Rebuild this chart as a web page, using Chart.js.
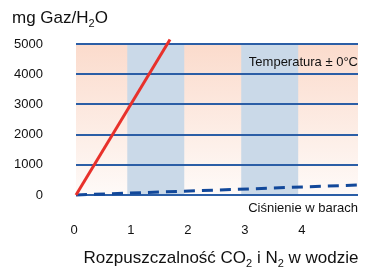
<!DOCTYPE html>
<html>
<head>
<meta charset="utf-8">
<script src="https://cdn.jsdelivr.net/npm/chart.js@4"></script>
<style>
  html, body { margin: 0; padding: 0; background: #fff; }
  #wrap { width: 373px; height: 270px; }
</style>
</head>
<body>
<div id="wrap"><canvas id="chart" width="373" height="270"></canvas></div>
<script>
// values
const co2Points = [[0, 0], [1.65, 5150]];      // bar, mg/l
const n2Points = [[0, 0], [4.95, 330]];
const yTicks = [0, 1000, 2000, 3000, 4000, 5000];
const xTicks = [0, 1, 2, 3, 4];
const blueBands = [[0.9, 1.9], [2.9, 3.9]];

const FONT = "'Liberation Sans', Arial, sans-serif";

// text with subscripts, parts = [[text, isSub], ...]
function drawRich(ctx, parts, x, y, size, align) {
    const subSize = Math.round(size * 0.62);
    let total = 0;
    parts.forEach(p => {
        ctx.font = (p[1] ? subSize : size) + "px " + FONT;
        total += ctx.measureText(p[0]).width;
    });
    let cx = align == 'right' ? x - total : (align == 'center' ? x - total / 2 : x);
    ctx.textAlign = 'left';
    ctx.textBaseline = 'alphabetic';
    parts.forEach(p => {
        ctx.font = (p[1] ? subSize : size) + "px " + FONT;
        ctx.fillText(p[0], cx, p[1] ? y + size * 0.22 : y);
        cx += ctx.measureText(p[0]).width;
    });
}

const backgroundPlugin = {
    id: 'bands',
    beforeDraw(chart) {
        const { ctx, chartArea: a, scales } = chart;
        ctx.save();
        let grad = ctx.createLinearGradient(0, a.top, 0, a.bottom);
        grad.addColorStop(0, '#fbdbcc');
        grad.addColorStop(1, '#fefaf8');
        ctx.fillStyle = grad;
        ctx.fillRect(a.left, a.top, a.right - a.left, a.bottom - a.top);
        ctx.fillStyle = '#cad9e8';
        blueBands.forEach(b => {
            const x1 = scales.x.getPixelForValue(b[0]);
            const x2 = scales.x.getPixelForValue(b[1]);
            ctx.fillRect(x1, a.top, x2 - x1, a.bottom - a.top);
        });
        ctx.restore();
    },
    afterDraw(chart) {
        const { ctx, chartArea: a } = chart;
        ctx.save();
        ctx.fillStyle = '#111';
        drawRich(ctx, [['mg Gaz/H', false], ['2', true], ['O', false]], 12, 23, 17, 'left');
        drawRich(ctx, [['Temperatura ± 0', false], ['°', false], ['C', false]], a.right, 66, 13, 'right');
        drawRich(ctx, [['Ciśnienie w barach', false]], a.right, 212, 13, 'right');
        drawRich(ctx, [['Rozpuszczalność CO', false], ['2', true], [' i N', false], ['2', true], [' w wodzie', false]],
            221, 263, 17, 'center');
        ctx.restore();
    }
};

const ctx = document.getElementById('chart').getContext('2d');
const config = {
    type: 'line',
    data: {
        datasets: [{
            label: 'CO2',
            data: co2Points.map(p => ({ x: p[0], y: p[1] })),
            borderColor: '#e8312b',
            borderWidth: 3,
            pointRadius: 0,
            clip: false
        }, {
            label: 'N2',
            data: n2Points.map(p => ({ x: p[0], y: p[1] })),
            borderColor: '#12489a',
            borderWidth: 3,
            borderDash: [11, 7],
            pointRadius: 0,
            clip: false
        }]
    },
    options: {
        responsive: false,
        animation: false,
        events: [],
        layout: { padding: { top: 44, right: 15, left: 0, bottom: 0 } },
        plugins: { legend: { display: false }, tooltip: { enabled: false } },
        scales: {
            x: {
                type: 'linear',
                min: 0,
                max: 4.95,
                afterFit: s => { s.height = 75; },
                afterBuildTicks: s => { s.ticks = xTicks.map(v => ({ value: v })); },
                grid: { display: false },
                border: { display: false },
                ticks: {
                    color: '#111',
                    font: { family: FONT, size: 13 },
                    padding: 20,
                    labelOffset: -2,
                    callback: v => String(v)
                }
            },
            y: {
                min: 0,
                max: 5000,
                afterFit: s => { s.width = 76; },
                afterBuildTicks: s => { s.ticks = yTicks.map(v => ({ value: v })); },
                grid: { color: '#2b5ea6', lineWidth: 2, drawTicks: false },
                border: { display: false },
                ticks: {
                    color: '#111',
                    font: { family: FONT, size: 13 },
                    padding: 33,
                    callback: v => String(v)
                }
            }
        }
    },
    plugins: [backgroundPlugin]
};

let chart = new Chart(ctx, config);
</script>
</body>
</html>
